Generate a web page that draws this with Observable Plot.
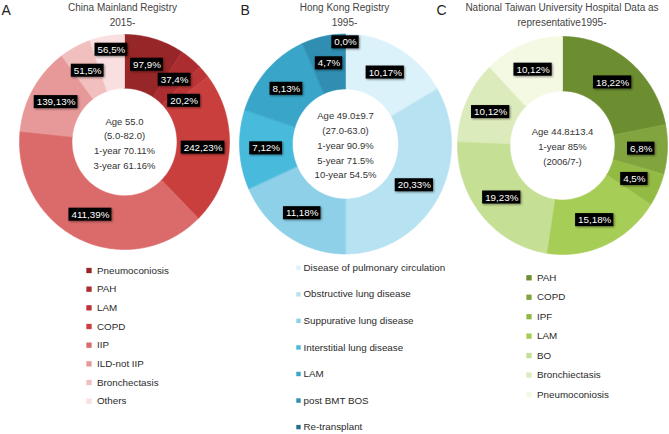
<!DOCTYPE html>
<html><head><meta charset="utf-8">
<script src="https://cdn.jsdelivr.net/npm/d3@7"></script>
<script src="https://cdn.jsdelivr.net/npm/@observablehq/plot@0.6"></script>
<style>
html,body{margin:0;padding:0;background:#fff;}
</style>
</head><body><div id="chart"></div>
<script>
// ---------- DATA ----------
const panelLetters = ["A", "B", "C"];

const titleA = ["China Mainland Registry", "2015-"];
const catsA = ["Pneumoconiosis", "PAH", "LAM", "COPD", "IIP", "ILD-not IIP", "Bronchectasis", "Others"];
const countsA = [97, 37, 20, 242, 411, 139, 51, 56];
const pctsA = [9, 4, 2, 23, 39, 13, 5, 5];
const colorsA = ["#972628", "#ab2d30", "#bb3536", "#c93f3e", "#db6b6b", "#e79898", "#f2bfbf", "#f9dfe0"];
const centerA = ["Age 55.0", "(5.0-82.0)", "1-year 70.11%", "3-year 61.16%"];

const titleB = ["Hong Kong Registry", "1995-"];
const catsB = ["Disease of pulmonary circulation", "Obstructive lung disease", "Suppurative lung disease", "Interstitial lung disease", "LAM", "post BMT BOS", "Re-transplant"];
const countsB = [10, 20, 11, 7, 8, 4, 0];
const pctsB = [17, 33, 18, 12, 13, 7, 0];
const colorsB = ["#dcf2fa", "#b6e2f1", "#8dd0e8", "#48bbdc", "#39a6c9", "#2f8eb1", "#26708f"];
const centerB = ["Age 49.0±9.7", "(27.0-63.0)", "1-year 90.9%", "5-year 71.5%", "10-year 54.5%"];

const titleC = ["National Taiwan University Hospital Data as", "representative1995-"];
const catsC = ["PAH", "COPD", "IPF", "LAM", "BO", "Bronchiectasis", "Pneumoconiosis"];
const countsC = [18, 6, 4, 15, 19, 10, 10];
const pctsC = [22, 8, 5, 18, 23, 12, 12];
const colorsC = ["#6c8d30", "#82a43f", "#93bb44", "#a6cd55", "#c5df95", "#dcebbb", "#f4f9e3"];
const centerC = ["Age 44.8±13.4", "1-year 85%", "(2006/7-)"];

// ---------- LAYOUT ----------
const W = 669, H = 434;
const FONT = "'Liberation Sans', Arial, Helvetica, sans-serif";
const layouts = [
  {cx: 124, cy: 141.5, rx: 105, ry: 107.5, titleX: 122, letterX: 1, sx: 88.5, tx: 96.5, ly0: 270, ldy: 18.67, sr: 3},
  {cx: 345, cy: 143.5, rx: 106, ry: 110, titleX: 344, letterX: 240, sx: 298, tx: 303, ly0: 267.3, ldy: 26.55, sr: 2.5},
  {cx: 562, cy: 145, rx: 105, ry: 109, titleX: 561.5, letterX: 436, sx: 528.5, tx: 536.5, ly0: 277.3, ldy: 19.45, sr: 3}
];
const panels = [
  {cats: catsA, counts: countsA, pcts: pctsA, colors: colorsA, center: centerA, title: titleA},
  {cats: catsB, counts: countsB, pcts: pctsB, colors: colorsB, center: centerB, title: titleB},
  {cats: catsC, counts: countsC, pcts: pctsC, colors: colorsC, center: centerC, title: titleC}
];

const ctx = document.createElement("canvas").getContext("2d");
const LABEL_FS = 9.8;
ctx.font = `${LABEL_FS}px ${FONT}`;

const keys = [], colorRange = [];
const slicePts = [], labels = [], legend = [], centers = [], titles = [], letters = [];
const INNER = 0.5, LABEL_R = 0.75, BOX_H = 13, SEP = 21;

panels.forEach((p, pi) => {
  const L = layouts[pi];
  const id = panelLetters[pi];
  letters.push({x: L.letterX, y: 10, text: id});
  titles.push({x: L.titleX, y: 7, text: p.title[0]});
  titles.push({x: L.titleX, y: 22.5, text: p.title[1]});
  centers.push({x: L.cx, y: L.cy, text: p.center.join("\n")});
  const arcs = d3.pie().sort(null).value(d => d)(p.counts);
  const placed = [];
  arcs.forEach((a, i) => {
    const key = id + ":" + p.cats[i];
    keys.push(key); colorRange.push(p.colors[i]);
    const a0 = a.startAngle, a1 = a.endAngle;
    if (a1 > a0) {
      const n = Math.max(2, Math.ceil((a1 - a0) / (Math.PI / 180)));
      const pts = [];
      for (let k = 0; k <= n; k++) pts.push([a0 + (a1 - a0) * k / n, 1]);
      for (let k = n; k >= 0; k--) pts.push([a0 + (a1 - a0) * k / n, INNER]);
      for (const [t, r] of pts) slicePts.push({key, x: L.cx + L.rx * r * Math.sin(t), y: L.cy - L.ry * r * Math.cos(t)});
    }
    const m = (a0 + a1) / 2;
    const text = `${p.counts[i]},${p.pcts[i]}%`;
    const lab = {text, x: L.cx + L.rx * LABEL_R * Math.sin(m), y: L.cy - L.ry * LABEL_R * Math.cos(m), w: ctx.measureText(text).width + 5, h: BOX_H};
    // simple collision avoidance: move later label vertically away
    for (let iter = 0; iter < 5; iter++) {
      let moved = false;
      for (const o of placed) {
        if (Math.abs(lab.x - o.x) < (lab.w + o.w) / 2 + 1 && Math.abs(lab.y - o.y) < BOX_H + 1) {
          const dir = lab.y - o.y > 0 ? 1 : -1;
          lab.y = o.y + dir * SEP;
          moved = true;
        }
      }
      if (!moved) break;
    }
    placed.push(lab);
    labels.push(lab);
    legend.push({key, text: p.cats[i], sx: L.sx, tx: L.tx, y: L.ly0 + i * L.ldy, sr: L.sr});
  });
});

const chart = Plot.plot({
  width: W, height: H, margin: 0,
  x: {domain: [0, W], range: [0, W], axis: null},
  y: {domain: [0, H], range: [0, H], axis: null},
  color: {type: "ordinal", domain: keys, range: colorRange},
  style: {fontFamily: FONT, background: "#fff", overflow: "visible"},
  marks: [
    Plot.line(slicePts, {x: "x", y: "y", z: "key", fill: "key", stroke: "key", strokeWidth: 0.6, curve: "linear-closed"}),
    Plot.rect(labels, {x1: d => d.x - d.w / 2, x2: d => d.x + d.w / 2, y1: d => d.y - d.h / 2, y2: d => d.y + d.h / 2, fill: "#000"}),
    Plot.text(labels, {x: "x", y: "y", text: "text", fill: "#fff", fontSize: LABEL_FS}),
    Plot.text(centers, {x: "x", y: "y", text: "text", fontSize: 9.5, lineHeight: 1.56, fill: "#333"}),
    Plot.dot(legend.filter(d => d.sr === 3), {x: "sx", y: "y", symbol: "square", r: 3, fill: "key"}),
    Plot.dot(legend.filter(d => d.sr !== 3), {x: "sx", y: "y", symbol: "square", r: 2.5, fill: "key"}),
    Plot.text(legend, {x: "tx", y: "y", text: "text", textAnchor: "start", fontSize: 9.8, fill: "#2a2a2a"}),
    Plot.text(titles, {x: "x", y: "y", text: "text", fontSize: 10, fill: "#444"}),
    Plot.text(letters, {x: "x", y: "y", text: "text", textAnchor: "start", fontSize: 14, fill: "#222"})
  ]
});
d3.select(chart).selectAll('g[aria-label="rect"] rect').style("filter", "drop-shadow(1px 1px 1px rgba(0,0,0,0.45))");
document.getElementById("chart").appendChild(chart);
</script>
</body></html>
